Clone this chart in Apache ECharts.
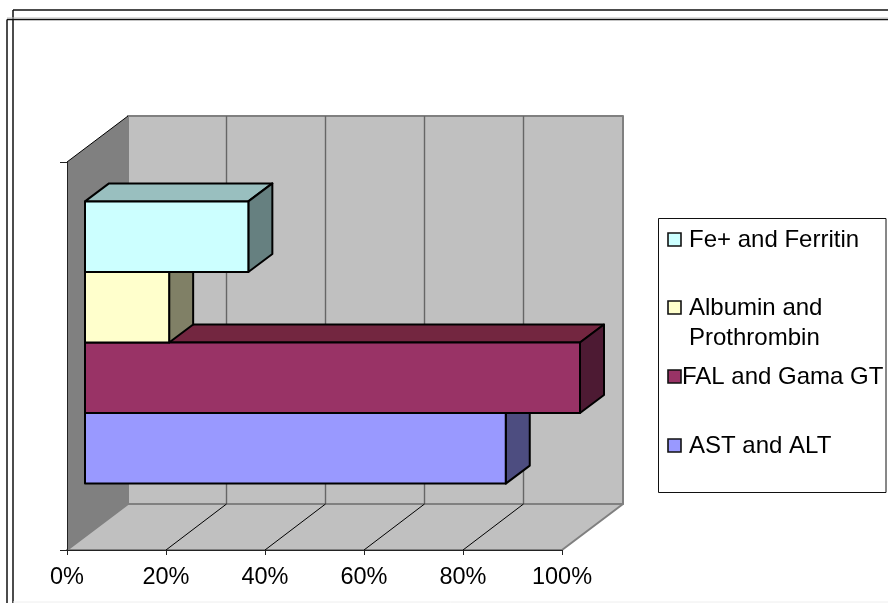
<!DOCTYPE html>
<html>
<head>
<meta charset="utf-8">
<style>html,body{margin:0;padding:0;background:#fff}#chart{width:888px;height:603px}</style>
<script src="https://cdn.jsdelivr.net/npm/echarts@6/dist/echarts.min.js"></script>
</head>
<body>
<div id="chart"></div>
<script>
// Liver test results, one clustered group of four bars
const groupLabels = ['Liver tests'];
const seriesNames = ['AST and ALT', 'FAL and Gama GT', 'Albumin and Prothrombin', 'Fe+ and Ferritin'];
const seriesValues = [85, 100, 17, 33];
const frontColors = ['#9999FF', '#993366', '#FFFFCC', '#CCFFFF'];
const topColors = ['#7373BF', '#732640', '#BFBF99', '#99BFBF'];
const sideColors = ['#4D4D80', '#4D1A33', '#808066', '#668080'];

const legendNames = ['Fe+ and Ferritin', 'Albumin and\nProthrombin', 'FAL and Gama GT', 'AST and ALT'];
const legendColors = ['#CCFFFF', '#FFFFCC', '#993366', '#9999FF'];
const legendSwatchTops = [233, 301, 370, 439];
const legendTextLefts = [689, 689, 682, 689];

const FONT = '"Liberation Sans", Arial, sans-serif';
const WALL_DX = 61, WALL_DY = 46;   // oblique offset of the back wall
const BAR_DX = 24, BAR_DY = 18;     // oblique depth of one bar
const BAR_INSET_X = 18, BAR_INSET_Y = 13.5; // bars stand inside the floor
const GAP_RATIO = 1.5;              // gap around the cluster, in bar widths

function poly(points, fill, stroke, lineWidth) {
  return {
    type: 'polygon',
    shape: { points },
    style: { fill: fill || 'transparent', stroke: stroke || 'none', lineWidth: lineWidth || 0, lineJoin: 'round' }
  };
}
function line(x1, y1, x2, y2, stroke, lineWidth) {
  return {
    type: 'line',
    shape: { x1, y1, x2, y2 },
    style: { stroke, lineWidth }
  };
}

// Back wall, side wall and floor drawn from the axis scale
function renderRoom(params, api) {
  const x0 = api.coord([0, 0])[0];
  const x100 = api.coord([100, 0])[0];
  const band = api.size([0, 1])[1];
  const mid = api.coord([0, 0])[1];
  const yTop = mid - band / 2, yBot = mid + band / 2;
  const kids = [
    poly([[x0 + WALL_DX, yTop - WALL_DY], [x100 + WALL_DX, yTop - WALL_DY], [x100 + WALL_DX, yBot - WALL_DY], [x0 + WALL_DX, yBot - WALL_DY]], '#C0C0C0', '#808080', 2),
    poly([[x0, yBot], [x0 + WALL_DX, yBot - WALL_DY], [x100 + WALL_DX, yBot - WALL_DY], [x100, yBot]], '#C0C0C0', '#808080', 2),
    poly([[x0, yTop], [x0 + WALL_DX, yTop - WALL_DY], [x0 + WALL_DX, yBot - WALL_DY], [x0, yBot]], '#808080', 'none', 0),
    line(x0, yTop, x0 + WALL_DX, yTop - WALL_DY, '#000', 1)
  ];
  for (let v = 20; v < 100; v += 20) {
    const x = api.coord([v, 0])[0];
    kids.push(line(x + WALL_DX - 0.5, yTop - WALL_DY, x + WALL_DX - 0.5, yBot - WALL_DY, '#666', 1.4));
    kids.push(line(x, yBot, x + WALL_DX - 0.5, yBot - WALL_DY, '#000', 1));
  }
  return { type: 'group', children: kids };
}

// One oblique bar: front, top and side faces
function barRenderer(seriesPos) {
  return function (params, api) {
    const base = api.coord([0, api.value(1)]);
    const end = api.coord([api.value(0), api.value(1)]);
    const band = api.size([0, 1])[1];
    const h = band / (seriesNames.length + GAP_RATIO);
    const left = base[0] + BAR_INSET_X;
    const right = end[0] + BAR_INSET_X;
    const clusterBottom = base[1] - BAR_INSET_Y + h * seriesNames.length / 2;
    const bottom = clusterBottom - h * seriesPos;
    const top = bottom - h;
    return {
      type: 'group',
      children: [
        poly([[left, top], [left + BAR_DX, top - BAR_DY], [right + BAR_DX, top - BAR_DY], [right, top]], topColors[seriesPos], '#000', 2),
        poly([[right, top], [right + BAR_DX, top - BAR_DY], [right + BAR_DX, bottom - BAR_DY], [right, bottom]], sideColors[seriesPos], '#000', 2),
        poly([[left, top], [right, top], [right, bottom], [left, bottom]], frontColors[seriesPos], '#000', 2)
      ]
    };
  };
}

const roomSeries = {
  type: 'custom',
  name: 'room',
  z: 1,
  silent: true,
  renderItem: renderRoom,
  data: [[0, 0]],
  clip: false
};
// Lowest bar first, so each bar rests over the one beneath it
const barSeries = seriesNames.map((name, i) => ({
  type: 'custom',
  name,
  z: 10 + i,
  silent: true,
  renderItem: barRenderer(i),
  data: [[seriesValues[i], 0]],
  clip: false
}));

// Legend panel
const legendGraphics = [{
  type: 'rect',
  shape: { x: 658.5, y: 218.5, width: 227.5, height: 274 },
  style: { fill: '#fff', stroke: '#111', lineWidth: 1 },
  z: 20
}];
legendNames.forEach((name, i) => {
  legendGraphics.push({
    type: 'rect',
    shape: { x: 668, y: legendSwatchTops[i], width: 13, height: 13 },
    style: { fill: legendColors[i], stroke: '#111', lineWidth: 1.6 },
    z: 21
  });
  legendGraphics.push({
    type: 'text',
    x: legendTextLefts[i],
    y: legendSwatchTops[i] - 8,
    style: { text: name, fill: '#000', font: '24px ' + FONT, verticalAlign: 'top', lineHeight: 30 },
    z: 22
  });
});

// Double page frame and faint page edges
const frameLines = [
  [13, 10, 888, 10, '#111', 1.5],
  [13, 10, 13, 603, '#111', 1.5],
  [7, 19.5, 888, 19.5, '#111', 1.5],
  [7, 19.5, 7, 603, '#111', 1.5],
  [7, 18, 888, 18, '#bbb', 1],
  [13, 602, 888, 602, '#eee', 1]
].map(l => ({
  type: 'line',
  shape: { x1: l[0], y1: l[1], x2: l[2], y2: l[3] },
  style: { stroke: l[4], lineWidth: l[5] },
  z: 30
}));

const chart = echarts.init(document.getElementById('chart'), null, { renderer: 'canvas' });
chart.setOption({
  animation: false,
  backgroundColor: '#fff',
  grid: { left: 67, top: 162, width: 495, height: 388, containLabel: false },
  xAxis: {
    type: 'value', min: 0, max: 100, interval: 20, z: 5,
    axisLine: { show: true, lineStyle: { color: '#222', width: 1.2 } },
    axisTick: { show: true, length: 5, lineStyle: { color: '#222', width: 1 } },
    splitLine: { show: false },
    axisLabel: { formatter: '{value}%', color: '#000', fontFamily: FONT, fontSize: 23.5, margin: 16 }
  },
  yAxis: {
    type: 'category', data: groupLabels, z: 5,
    axisLine: { show: true, lineStyle: { color: '#222', width: 1 } },
    axisTick: { show: true, length: 7, alignWithLabel: false, lineStyle: { color: '#222', width: 1 } },
    axisLabel: { show: false },
    splitLine: { show: false }
  },
  series: [roomSeries].concat(barSeries),
  graphic: legendGraphics.concat(frameLines)
});
</script>
</body>
</html>
